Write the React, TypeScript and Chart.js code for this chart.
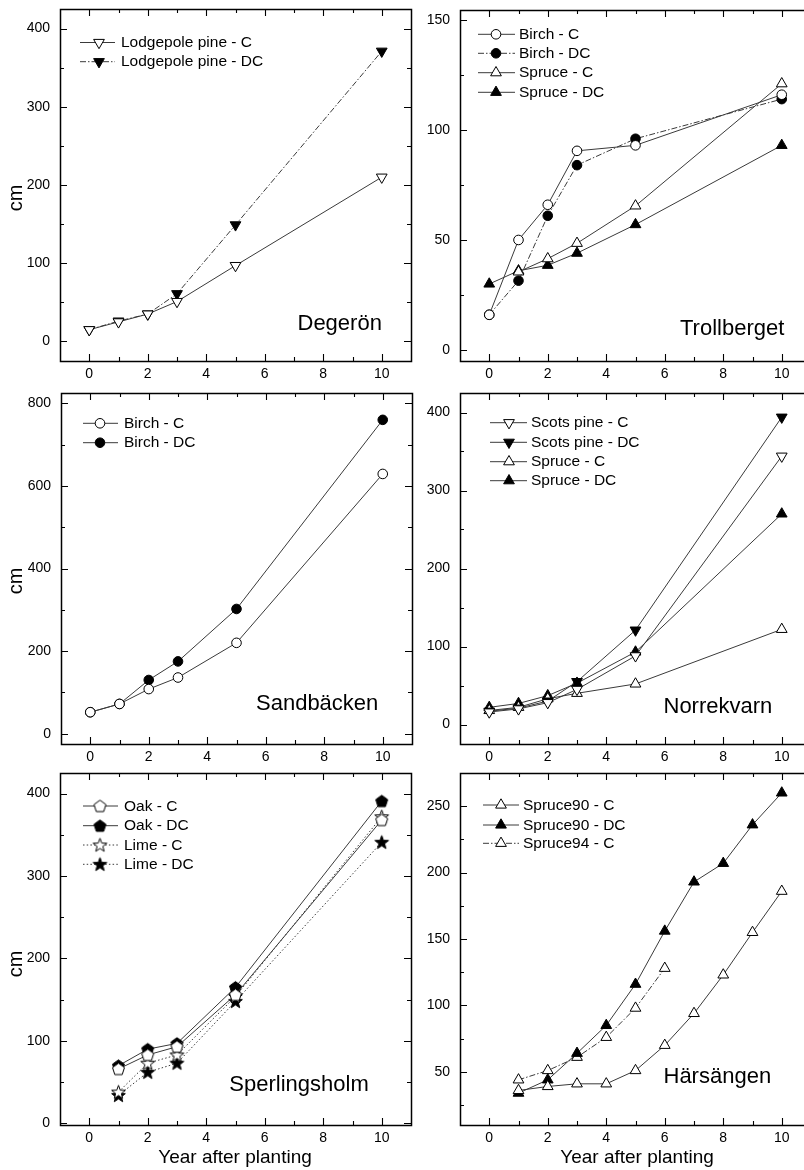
import React, { useEffect, useRef } from 'react';
import { Chart, registerables } from 'chart.js';

Chart.register(...registerables);

const FONT = '"Liberation Sans", Arial, Helvetica, sans-serif';
Chart.defaults.font.family = FONT;

// ---------------- data ----------------
const xTicks = [0, 2, 4, 6, 8, 10];
const xMinor = [1, 3, 5, 7, 9];

// Degerön
const degYears = [0, 1, 2, 3, 5, 10];
const degLodgeC = [15, 25, 35, 51, 97, 210];
const degLodgeDC = [15, 26, 35, 61, 149, 371];
const degYTicks = [0, 100, 200, 300, 400];
const degYMinor = [50, 150, 250, 350];

// Trollberget
const troYears = [0, 1, 2, 3, 5, 10];
const troBirchC = [16, 50, 66, 90.5, 93, 116];
const troBirchDC = [16, 31.5, 61, 84, 96, 114];
const troSpruceC = [null, 35.5, 41.5, 48.5, 65.5, 121];
const troSpruceDC = [30, 36, 38.5, 44, 57, 93];
const troYTicks = [0, 50, 100, 150];
const troYMinor = [25, 75, 125];

// Sandbäcken
const sanYears = [0, 1, 2, 3, 5, 10];
const sanBirchC = [52, 72, 108, 136, 220, 629];
const sanBirchDC = [52, 72, 130, 175, 302, 760];
const sanYTicks = [0, 200, 400, 600, 800];
const sanYMinor = [100, 300, 500, 700];

// Norrekvarn
const norYears = [0, 1, 2, 3, 5, 10];
const norScotsC = [16, 20, 28, 45, 88, 344];
const norScotsDC = [17, 21, 30, 55, 121, 394];
const norSpruceC = [18, 22, 33, 40, 52, 122];
const norSpruceDC = [22, 27, 37, 53, 93, 270];
const norYTicks = [0, 100, 200, 300, 400];
const norYMinor = [50, 150, 250, 350];

// Sperlingsholm
const speYears = [1, 2, 3, 5, 10];
const speOakC = [66, 83, 93, 156, 368];
const speOakDC = [70, 90, 97, 165, 391];
const speLimeC = [38, 73, 83, 154, 372];
const speLimeDC = [34, 62, 73, 148, 341];
const speYTicks = [0, 100, 200, 300, 400];
const speYMinor = [50, 150, 250, 350];

// Härsängen
const harYears = [1, 2, 3, 4, 5, 6, 7, 8, 9, 10];
const harSpruce90C = [36, 39, 41, 41, 51, 70, 94, 123, 155, 186];
const harSpruce90DC = [34, 44, 64, 85, 116, 156, 193, 207, 236, 260];
const harYears94 = [1, 2, 3, 4, 5, 6];
const harSpruce94C = [44, 51, 61, 76, 98, 128];
const harYTicks = [50, 100, 150, 200, 250];
const harYMinor = [25, 75, 125, 175, 225];

// ---------------- styling ----------------
type Marker =
  | 'circleOpen' | 'circleFilled'
  | 'triUpOpen' | 'triUpFilled'
  | 'triDownOpen' | 'triDownFilled'
  | 'pentOpen' | 'pentFilled'
  | 'starOpen' | 'starFilled';

interface Series { label: string; xs: number[]; ys: (number | null)[]; marker: Marker; dash: number[]; }
interface Panel {
  key: string;
  area: [number, number, number, number];
  yMin: number; yMax: number; yTicks: number[]; yMinor: number[];
  series: Series[];
  legend: { x0: number; x1: number; mx: number; tx: number; rows: number[] };
  site: { text: string; x: number; y: number };
  cmY?: number;
  xTitleX?: number;
}

const SOLID: number[] = [];
const DASHDOT = [6, 2, 1.5, 2];
const DOTTED = [1.5, 2.2];
const LINE_COLOR = '#3a3a3a';

const panels: Panel[] = [
  {
    key: 'deg', area: [60, 9, 411, 361], yMin: -25, yMax: 425, yTicks: degYTicks, yMinor: degYMinor,
    series: [
      { label: 'Lodgepole pine - C', xs: degYears, ys: degLodgeC, marker: 'triDownOpen', dash: SOLID },
      { label: 'Lodgepole pine - DC', xs: degYears, ys: degLodgeDC, marker: 'triDownFilled', dash: DASHDOT },
    ],
    legend: { x0: 80, x1: 115, mx: 99, tx: 121, rows: [42.5, 61.7] },
    site: { text: 'Degerön', x: 297.5, y: 330 },
    cmY: 198,
  },
  {
    key: 'tro', area: [460, 10, 811, 361], yMin: -5, yMax: 154.5, yTicks: troYTicks, yMinor: troYMinor,
    series: [
      { label: 'Birch - C', xs: troYears, ys: troBirchC, marker: 'circleOpen', dash: SOLID },
      { label: 'Birch - DC', xs: troYears, ys: troBirchDC, marker: 'circleFilled', dash: DASHDOT },
      { label: 'Spruce - C', xs: troYears, ys: troSpruceC, marker: 'triUpOpen', dash: SOLID },
      { label: 'Spruce - DC', xs: troYears, ys: troSpruceDC, marker: 'triUpFilled', dash: SOLID },
    ],
    legend: { x0: 478, x1: 515, mx: 496, tx: 519, rows: [34.3, 53.3, 72.7, 92.3] },
    site: { text: 'Trollberget', x: 680, y: 335 },
  },
  {
    key: 'san', area: [61, 393, 412, 744], yMin: -25, yMax: 825, yTicks: sanYTicks, yMinor: sanYMinor,
    series: [
      { label: 'Birch - C', xs: sanYears, ys: sanBirchC, marker: 'circleOpen', dash: SOLID },
      { label: 'Birch - DC', xs: sanYears, ys: sanBirchDC, marker: 'circleFilled', dash: SOLID },
    ],
    legend: { x0: 83, x1: 118, mx: 100, tx: 124, rows: [423.3, 442.7] },
    site: { text: 'Sandbäcken', x: 256, y: 710 },
    cmY: 581,
  },
  {
    key: 'nor', area: [460, 393, 811, 744], yMin: -25, yMax: 425, yTicks: norYTicks, yMinor: norYMinor,
    series: [
      { label: 'Scots pine - C', xs: norYears, ys: norScotsC, marker: 'triDownOpen', dash: SOLID },
      { label: 'Scots pine - DC', xs: norYears, ys: norScotsDC, marker: 'triDownFilled', dash: SOLID },
      { label: 'Spruce - C', xs: norYears, ys: norSpruceC, marker: 'triUpOpen', dash: SOLID },
      { label: 'Spruce - DC', xs: norYears, ys: norSpruceDC, marker: 'triUpFilled', dash: SOLID },
    ],
    legend: { x0: 490, x1: 527, mx: 509, tx: 531, rows: [422.7, 442.3, 461.7, 480.7] },
    site: { text: 'Norrekvarn', x: 663.5, y: 713.3 },
  },
  {
    key: 'spe', area: [60, 773, 411, 1125], yMin: -2, yMax: 425, yTicks: speYTicks, yMinor: speYMinor,
    series: [
      { label: 'Oak - C', xs: speYears, ys: speOakC, marker: 'pentOpen', dash: SOLID },
      { label: 'Oak - DC', xs: speYears, ys: speOakDC, marker: 'pentFilled', dash: SOLID },
      { label: 'Lime - C', xs: speYears, ys: speLimeC, marker: 'starOpen', dash: DOTTED },
      { label: 'Lime - DC', xs: speYears, ys: speLimeDC, marker: 'starFilled', dash: DOTTED },
    ],
    legend: { x0: 83, x1: 118, mx: 100, tx: 124, rows: [806, 825.7, 845, 864.3] },
    site: { text: 'Sperlingsholm', x: 229.3, y: 1090.5 },
    cmY: 964,
    xTitleX: 235,
  },
  {
    key: 'har', area: [460, 773, 811, 1125], yMin: 10, yMax: 275, yTicks: harYTicks, yMinor: harYMinor,
    series: [
      { label: 'Spruce90 - C', xs: harYears, ys: harSpruce90C, marker: 'triUpOpen', dash: SOLID },
      { label: 'Spruce90 - DC', xs: harYears, ys: harSpruce90DC, marker: 'triUpFilled', dash: SOLID },
      { label: 'Spruce94 - C', xs: harYears94, ys: harSpruce94C, marker: 'triUpOpen', dash: DASHDOT },
    ],
    legend: { x0: 483, x1: 519, mx: 501, tx: 523, rows: [805, 825, 843.3] },
    site: { text: 'Härsängen', x: 663.5, y: 1083.3 },
    xTitleX: 637,
  },
];

// ---------------- marker helpers ----------------
const shapeCache: Record<string, HTMLCanvasElement> = {};
function shapeImage(kind: Marker): HTMLCanvasElement {
  if (shapeCache[kind]) return shapeCache[kind];
  const c = document.createElement('canvas');
  c.width = 17; c.height = 17;
  const ctx = c.getContext('2d')!;
  ctx.beginPath();
  if (kind.startsWith('pent')) {
    for (let i = 0; i < 5; i++) {
      const a = -Math.PI / 2 + (i * 2 * Math.PI) / 5;
      const x = 8.5 + 6.3 * Math.cos(a), y = 9 + 6.3 * Math.sin(a);
      if (i === 0) ctx.moveTo(x, y); else ctx.lineTo(x, y);
    }
  } else {
    for (let i = 0; i < 10; i++) {
      const r = i % 2 === 0 ? 7.2 : 3;
      const a = -Math.PI / 2 + (i * Math.PI) / 5;
      const x = 8.5 + r * Math.cos(a), y = 9 + r * Math.sin(a);
      if (i === 0) ctx.moveTo(x, y); else ctx.lineTo(x, y);
    }
  }
  ctx.closePath();
  ctx.fillStyle = kind.endsWith('Filled') ? '#000' : '#fff';
  ctx.fill();
  ctx.strokeStyle = '#000';
  ctx.lineWidth = 1;
  ctx.stroke();
  shapeCache[kind] = c;
  return c;
}

function pointProps(kind: Marker): any {
  const bg = kind.endsWith('Filled') ? '#000' : '#fff';
  if (kind.startsWith('circle')) return { pointStyle: 'circle', pointRadius: 4.8, pointRotation: 0, pointBackgroundColor: bg };
  if (kind.startsWith('triUp')) return { pointStyle: 'triangle', pointRadius: 6.2, pointRotation: 0, pointBackgroundColor: bg };
  if (kind.startsWith('triDown')) return { pointStyle: 'triangle', pointRadius: 6.2, pointRotation: 180, pointBackgroundColor: bg };
  return { pointStyle: shapeImage(kind), pointRadius: 6, pointRotation: 0, pointBackgroundColor: bg };
}

function drawLegendMarker(ctx: CanvasRenderingContext2D, kind: Marker, x: number, y: number) {
  const p = pointProps(kind);
  if (typeof p.pointStyle !== 'string') {
    const img = p.pointStyle as HTMLCanvasElement;
    ctx.drawImage(img, x - img.width / 2, y - img.height / 2);
    return;
  }
  ctx.beginPath();
  if (p.pointStyle === 'circle') {
    ctx.arc(x, y, p.pointRadius, 0, Math.PI * 2);
  } else {
    let rad = (p.pointRotation * Math.PI) / 180;
    const r = p.pointRadius;
    for (let i = 0; i < 3; i++) {
      const px = x + Math.sin(rad) * r, py = y - Math.cos(rad) * r;
      if (i === 0) ctx.moveTo(px, py); else ctx.lineTo(px, py);
      rad += (2 * Math.PI) / 3;
    }
    ctx.closePath();
  }
  ctx.fillStyle = p.pointBackgroundColor;
  ctx.fill();
  ctx.strokeStyle = '#000';
  ctx.lineWidth = 1;
  ctx.stroke();
}

// ---------------- chart ----------------
function PanelChart({ p }: { p: Panel }) {
  const ref = useRef<HTMLCanvasElement>(null);
  const [L, T, R, B] = p.area;
  const cx = L - 60, cy = T - 9;
  const cw = R + 10 - cx, ch = B + 45 - cy;

  useEffect(() => {
    const datasets = p.series.map((s) => {
      const pts: { x: number; y: number }[] = [];
      s.xs.forEach((x, i) => { const y = s.ys[i]; if (y !== null && y !== undefined) pts.push({ x, y }); });
      return {
        label: s.label,
        data: pts,
        borderColor: LINE_COLOR,
        borderWidth: 1,
        borderDash: s.dash,
        pointBorderColor: '#000',
        pointBorderWidth: 1,
        fill: false,
        tension: 0,
        clip: false as any,
        ...pointProps(s.marker),
      };
    });

    const deco = {
      id: 'deco',
      afterDraw(chart: any) {
        const ctx: CanvasRenderingContext2D = chart.ctx;
        const xs = chart.scales.x, ys = chart.scales.y;
        const { left, top, right, bottom } = chart.chartArea;
        ctx.save();
        // frame
        ctx.strokeStyle = '#000';
        ctx.lineWidth = 1.5;
        ctx.strokeRect(Math.round(left) + 0.5, Math.round(top) + 0.5, Math.round(right) - Math.round(left), Math.round(bottom) - Math.round(top));
        // ticks
        ctx.lineWidth = 1.1;
        const tickX = (v: number, len: number) => {
          const px = Math.round(xs.getPixelForValue(v)) + 0.5;
          ctx.beginPath();
          ctx.moveTo(px, bottom); ctx.lineTo(px, bottom - len);
          ctx.moveTo(px, top); ctx.lineTo(px, top + len);
          ctx.stroke();
        };
        const tickY = (v: number, len: number) => {
          const py = Math.round(ys.getPixelForValue(v)) + 0.5;
          ctx.beginPath();
          ctx.moveTo(left, py); ctx.lineTo(left + len, py);
          ctx.moveTo(right, py); ctx.lineTo(right - len, py);
          ctx.stroke();
        };
        xTicks.forEach((v) => tickX(v, 7));
        xMinor.forEach((v) => tickX(v, 4));
        p.yTicks.forEach((v) => tickY(v, 7));
        p.yMinor.forEach((v) => tickY(v, 4));

        // legend
        ctx.font = `15.5px ${FONT}`;
        ctx.textBaseline = 'middle';
        ctx.textAlign = 'left';
        p.series.forEach((s, i) => {
          const y = p.legend.rows[i] - cy;
          ctx.save();
          ctx.strokeStyle = LINE_COLOR;
          ctx.lineWidth = 1;
          ctx.setLineDash(s.dash);
          ctx.beginPath();
          ctx.moveTo(p.legend.x0 - cx, y);
          ctx.lineTo(p.legend.x1 - cx, y);
          ctx.stroke();
          ctx.restore();
          drawLegendMarker(ctx, s.marker, p.legend.mx - cx, y);
          ctx.fillStyle = '#000';
          ctx.fillText(s.label, p.legend.tx - cx, y + 0.5);
        });

        // site name
        ctx.font = `22px ${FONT}`;
        ctx.textBaseline = 'alphabetic';
        ctx.fillStyle = '#000';
        ctx.fillText(p.site.text, p.site.x - cx, p.site.y - cy);

        // axis titles
        if (p.cmY !== undefined) {
          ctx.save();
          ctx.font = `20px ${FONT}`;
          ctx.textAlign = 'center';
          ctx.textBaseline = 'middle';
          ctx.translate(16 - cx, p.cmY - cy);
          ctx.rotate(-Math.PI / 2);
          ctx.fillText('cm', 0, 0);
          ctx.restore();
        }
        if (p.xTitleX !== undefined) {
          ctx.font = `19px ${FONT}`;
          ctx.textAlign = 'center';
          ctx.textBaseline = 'middle';
          ctx.fillText('Year after planting', p.xTitleX - cx, 1158 - cy);
        }
        ctx.restore();
      },
    };

    const chart = new Chart(ref.current!, {
      type: 'line',
      data: { datasets: datasets as any },
      options: {
        responsive: false,
        animation: false,
        devicePixelRatio: 1,
        events: [],
        layout: { padding: { left: 0, top: T - cy, right: cx + cw - R, bottom: 0 } },
        plugins: { legend: { display: false }, tooltip: { enabled: false } },
        scales: {
          x: {
            type: 'linear',
            min: -1,
            max: 11,
            grid: { display: false, drawTicks: false },
            border: { display: false },
            afterBuildTicks: (s: any) => { s.ticks = xTicks.map((v) => ({ value: v })); },
            afterFit: (s: any) => {
              s.height = cy + ch - B;
              s.paddingLeft = 0; s.paddingRight = 0; s.paddingTop = 0; s.paddingBottom = 0;
            },
            ticks: { autoSkip: false, maxRotation: 0, padding: 5, color: '#000', font: { family: FONT, size: 14 } },
          },
          y: {
            type: 'linear',
            min: p.yMin,
            max: p.yMax,
            grid: { display: false, drawTicks: false },
            border: { display: false },
            afterBuildTicks: (s: any) => { s.ticks = p.yTicks.map((v) => ({ value: v })); },
            afterFit: (s: any) => {
              s.width = L - cx;
              s.paddingLeft = 0; s.paddingRight = 0; s.paddingTop = 0; s.paddingBottom = 0;
            },
            ticks: { autoSkip: false, padding: 10, color: '#000', font: { family: FONT, size: 14 } },
          },
        },
      } as any,
      plugins: [deco],
    });
    return () => chart.destroy();
  }, []);

  return (
    <canvas
      ref={ref}
      width={cw}
      height={ch}
      style={{ position: 'absolute', left: cx, top: cy, width: cw, height: ch }}
    />
  );
}

export default function App() {
  return (
    <div
      style={{
        position: 'absolute',
        left: 0,
        top: 0,
        width: 804,
        height: 1170,
        overflow: 'hidden',
        background: '#fff',
      }}
    >
      {panels.map((p) => (
        <PanelChart key={p.key} p={p} />
      ))}
    </div>
  );
}
